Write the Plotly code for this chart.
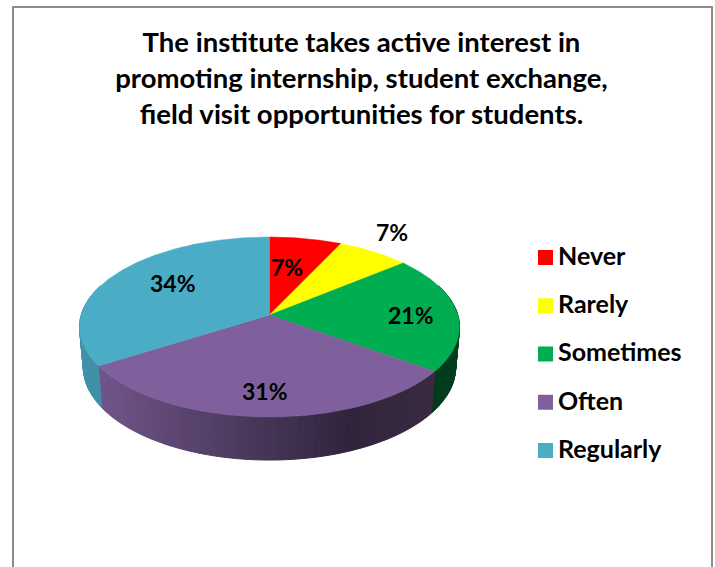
import math
import plotly.graph_objects as go

# --- data ---
categories = ["Never", "Rarely", "Sometimes", "Often", "Regularly"]
percent_values = [7, 7, 21, 31, 34]
slice_colors = ["#ff0000", "#ffff00", "#00ad50", "#7f609c", "#4bacc6"]
title_lines = [
    "The institute takes active interest in",
    "promoting internship, student exchange,",
    "field visit opportunities for students.",
]

# --- style / layout ---
W, H = 715, 567
FONT = "Lato"
CX, CY = 269.5, 315.0          # apex of the pie on screen
R, K, P = 188.3, 88.4, 0.1333  # projected radius, height and perspective
BASE_Y, BASE_SX, BASE_SY = 355.0, 0.98, 1.03
WALL_DARK = {
    "Never": ("#a00000", "#a00000"),
    "Rarely": ("#a0a000", "#a0a000"),
    "Sometimes": ("#004a24", "#003a1c"),
    "Often": ("#6f5489", "#30243c"),
    "Regularly": ("#3f8fa6", "#44a0b8"),
}
LABEL_OFFSET = [(17, -48), (122, -83), (141, 0), (-5, 76), (-97, -32)]


def project(angle_deg, top=True):
    a = math.radians(angle_deg)
    u, v = math.sin(a), math.cos(a)
    w = 1 + P * v
    x, y = R * u / w, -K * v / w
    if top:
        return CX + x, CY + y
    return CX + BASE_SX * x, BASE_Y + BASE_SY * y


def mix(c1, c2, t):
    a = [int(c1[i:i + 2], 16) for i in (1, 3, 5)]
    b = [int(c2[i:i + 2], 16) for i in (1, 3, 5)]
    return "#%02x%02x%02x" % tuple(round(p + (q - p) * t) for p, q in zip(a, b))


total = sum(percent_values)
bounds = [0.0]
for val in percent_values:
    bounds.append(bounds[-1] + 360.0 * val / total)

fig = go.Figure()

# side wall: short quads along the visible rim
for cat, start, end in zip(categories, bounds[:-1], bounds[1:]):
    dark0, dark1 = WALL_DARK[cat]
    a = start
    while a < end - 1e-9:
        b = min(a + 1.5, end)
        mid = (a + b) / 2
        if math.cos(math.radians(mid)) < 0.35:
            if cat == "Often":
                xm = project(mid)[0]
                t = min(1.0, max(0.0, (xm - 100) / 250))
                col = mix(dark0, dark1, t)
                if xm > 350:
                    col = mix(dark1, "#38293f", (xm - 350) / 85)
            else:
                col = mix(dark0, dark1, (mid - start) / (end - start))
            p0, p1 = project(a), project(b)
            q1, q0 = project(b, False), project(a, False)
            fig.add_trace(go.Scatter(
                x=[p0[0], p1[0], q1[0], q0[0], p0[0]],
                y=[p0[1], p1[1], q1[1], q0[1], p0[1]],
                mode="lines", fill="toself", fillcolor=col,
                line=dict(color=col, width=1),
                hoverinfo="skip", showlegend=False,
            ))
        a = b

# top face
for cat, col, start, end in zip(categories, slice_colors, bounds[:-1], bounds[1:]):
    n = max(2, int((end - start) * 2))
    rim = [project(start + (end - start) * i / n) for i in range(n + 1)]
    fig.add_trace(go.Scatter(
        x=[CX] + [p[0] for p in rim] + [CX],
        y=[CY] + [p[1] for p in rim] + [CY],
        mode="lines", fill="toself", fillcolor=col,
        line=dict(color=col, width=0.5),
        name=cat, hoverinfo="name", showlegend=False,
    ))

# key: swatches, then their names
key_y = [257.5 + 48.25 * i for i in range(len(categories))]
fig.add_trace(go.Scatter(
    x=[545.5] * len(categories), y=key_y,
    mode="markers",
    marker=dict(symbol="square", size=15, color=slice_colors),
    hoverinfo="skip", showlegend=False,
))
fig.add_trace(go.Scatter(
    x=[558] * len(categories), y=[v + 1 for v in key_y],
    mode="text",
    text=categories,
    textposition="middle right",
    textfont=dict(family=FONT, size=25, color="#000000", weight=700),
    hoverinfo="skip", showlegend=False,
))

# percentage labels
for val, (dx, dy) in zip(percent_values, LABEL_OFFSET):
    fig.add_annotation(
        x=CX + dx, y=CY + dy, xref="x", yref="y",
        text=f"{val}%", showarrow=False, xanchor="center", yanchor="middle",
        font=dict(family=FONT, size=23, color="#000000", weight=700),
    )

# frame, open at the bottom
fig.add_shape(type="rect", xref="x", yref="y", x0=13, x1=712, y0=7, y1=590,
              line=dict(color="#8c8c8c", width=2), layer="below")

fig.update_layout(
    width=W, height=H,
    margin=dict(l=0, r=0, t=0, b=0),
    paper_bgcolor="#ffffff", plot_bgcolor="#ffffff",
    showlegend=False,
    xaxis=dict(range=[0, W], visible=False, fixedrange=True),
    yaxis=dict(range=[H, 0], visible=False, fixedrange=True),
    title=dict(
        text="<br>".join(title_lines),
        x=361.5 / W, xanchor="center", xref="paper",
        y=1 - 52 / H, yanchor="top", yref="container",
        font=dict(family=FONT, size=27.5, color="#000000", weight=700),
    ),
)

fig.write_html("out.html", config={"displayModeBar": False},
               post_script="document.body.style.margin='0';document.body.style.overflow='hidden';")
